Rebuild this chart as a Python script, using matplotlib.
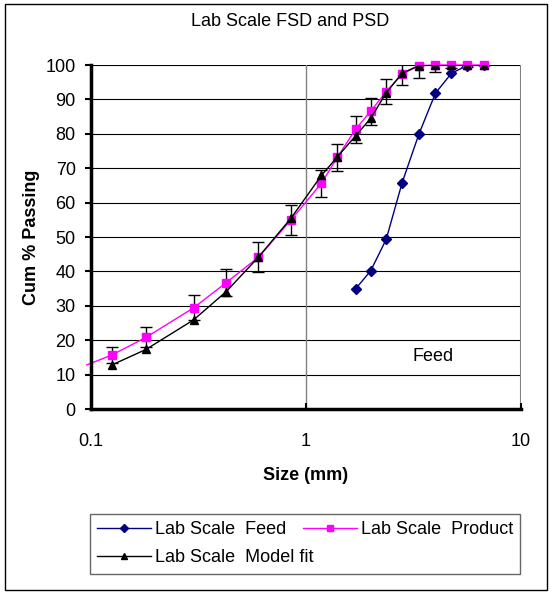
import matplotlib
matplotlib.use("Agg")
import matplotlib.pyplot as plt
from matplotlib.patches import Rectangle

plt.rcParams['font.family'] = ['Liberation Sans', 'DejaVu Sans']

# sieve sizes (mm)
feed_size = [1.7, 2.0, 2.36, 2.8, 3.35, 4.0, 4.75, 5.6, 6.7]
feed_pass = [34.9, 40.2, 49.3, 65.8, 79.9, 91.8, 97.6, 99.8, 100]

# first product value lies just left of the axis (no marker drawn)
prod_size = [0.0955, 0.125, 0.18, 0.3, 0.425, 0.6, 0.85, 1.18, 1.4, 1.7, 2.0,
             2.36, 2.8, 3.35, 4.0, 4.75, 5.6, 6.7]
prod_pass = [12.8, 15.7, 20.8, 29.4, 36.7, 44.1, 54.9, 65.6, 73.2, 81.3, 86.6,
             92.2, 97.4, 99.8, 100, 100, 100, 100]
prod_err = [0, 2.4, 2.9, 3.6, 3.9, 4.4, 4.4, 3.9, 3.9, 3.9, 3.9,
            3.6, 3.1, 3.5, 1.9, 1.0, 0.5, 0]

model_size = [0.125, 0.18, 0.3, 0.425, 0.6, 0.85, 1.18, 1.4, 1.7, 2.0,
              2.36, 2.8, 3.35, 4.0, 4.75, 5.6, 6.7]
model_pass = [12.8, 17.3, 25.9, 34.1, 44.1, 55.4, 67.9, 73.3, 79.4, 84.5,
              91.9, 97.6, 99.8, 100, 100, 100, 100]

W, H = 552, 594
fig = plt.figure(figsize=(W / 100, H / 100), dpi=100)
ax = fig.add_axes([91 / W, 1 - 409 / H, 430 / W, 344 / H])

ax.set_xscale('log')
ax.set_xlim(0.1, 10)
ax.set_ylim(0, 100)

# grid
for v in range(10, 101, 10):
    ax.axhline(v, color='black', lw=0.8, zorder=1)
ax.axvline(1, color='#808080', lw=1.0, zorder=1)
ax.axvline(10, color='#808080', lw=1.5, zorder=1)

ln_feed, = ax.plot(feed_size, feed_pass, color='#000080', marker='D', ms=5,
                   lw=1.0, zorder=3)
ax.errorbar(prod_size[1:], prod_pass[1:], yerr=prod_err[1:], fmt='none',
            ecolor='black', elinewidth=1.0, capsize=4.5, capthick=1.0, zorder=4)
ln_prod, = ax.plot(prod_size, prod_pass, color='#FF00FF', marker='s', ms=6,
                   lw=1.0, markevery=list(range(1, len(prod_size))),
                   clip_on=False, zorder=5)
ln_model, = ax.plot(model_size, model_pass, color='black', marker='^', ms=6,
                    lw=1.0, zorder=6)

ax.text(3.88, 15.4, 'Feed', fontsize=13, ha='center', va='center')

ax.set_yticks(range(0, 101, 10))
ax.set_xticks([0.1, 1, 10])
ax.set_xticklabels(['0.1', '1', '10'])
ax.minorticks_off()
ax.tick_params(axis='y', labelsize=13, length=4, width=1.5, pad=7)
ax.tick_params(axis='x', labelsize=13, length=4, width=1.5, direction='in', pad=17)

for s in ['top', 'right']:
    ax.spines[s].set_visible(False)
for s in ['left', 'bottom']:
    ax.spines[s].set_linewidth(2.5)
    ax.spines[s].set_zorder(7)

fig.text(290 / W, 1 - 21 / H, 'Lab Scale FSD and PSD', fontsize=13,
         ha='center', va='center')
fig.text(306 / W, 1 - 475 / H, 'Size (mm)', fontsize=13, fontweight='bold',
         ha='center', va='center')
fig.text(32 / W, 1 - 237 / H, 'Cum % Passing', fontsize=13, fontweight='bold',
         rotation=90, ha='center', va='center')

leg = fig.legend([ln_feed, ln_model, ln_prod],
                 ['Lab Scale  Feed', 'Lab Scale  Model fit', 'Lab Scale  Product'],
                 ncol=2, loc='upper left',
                 bbox_to_anchor=(90 / W, 1 - 577 / H, 430 / W, 63 / H),
                 mode='expand', fontsize=13, frameon=True, fancybox=False,
                 edgecolor='#404040', handlelength=3.0, handletextpad=0.2,
                 labelspacing=0.62, borderpad=0.4, borderaxespad=0,
                 columnspacing=1.3, markerscale=0.8)
leg.get_frame().set_linewidth(1.0)

fig.patches.append(Rectangle((5 / W, 4 / H), 542 / W, 586 / H,
                             transform=fig.transFigure, fill=False,
                             edgecolor='black', lw=1.0))

fig.savefig('out.png', dpi=100)
